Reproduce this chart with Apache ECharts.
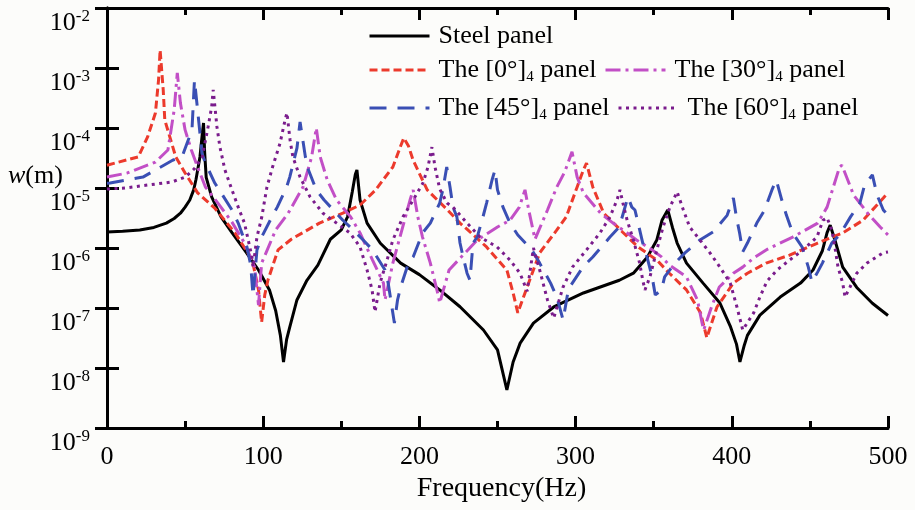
<!DOCTYPE html>
<html>
<head>
<meta charset="utf-8">
<title>w(m) - Frequency(Hz)</title>
<script src="https://cdn.jsdelivr.net/npm/echarts@6/dist/echarts.min.js"></script>
<style>
    html, body { margin: 0; padding: 0; background: #fcfcfa; }
    #main { width: 915px; height: 510px; }
</style>
</head>
<body>
<div id="main"></div>
<script>
    // [frequency Hz, w m]
    var steel = [[0,1.85e-6],[10,1.9e-6],[21,2.0e-6],[30,2.2e-6],[38,2.6e-6],[43,3.1e-6],[47,3.8e-6],[50,4.8e-6],[53,6.3e-6],[55.5,9.3e-6],[57,1.4e-5],[59.5,3.3e-5],[61,8e-5],[61.8,1.21e-4],[62.5,4e-5],[63.5,1.5e-5],[67,7.1e-6],[73,3.3e-6],[80,1.8e-6],[88,9.3e-7],[97,4.3e-7],[104,2.0e-7],[108,9e-8],[111,3.5e-8],[113,1.26e-8],[115,3e-8],[117,4.8e-8],[121.6,1.36e-7],[128,2.9e-7],[135,5.2e-7],[143,1.4e-6],[150,2.0e-6],[154,3.3e-6],[157,8.6e-6],[159,1.7e-5],[160,2.0e-5],[162,6.3e-6],[166.5,2.6e-6],[175,1.2e-6],[188,5.6e-7],[200,3.6e-7],[213,2.0e-7],[226,1.05e-7],[241,4.3e-8],[250,2.0e-8],[253,9.3e-9],[256,4.3e-9],[260,1.26e-8],[264.5,2.6e-8],[273,5.6e-8],[286,1.04e-7],[305,1.78e-7],[328,2.9e-7],[337,3.8e-7],[346,7.1e-7],[352,1.36e-6],[355.3,2.9e-6],[359,4.3e-6],[362,2.2e-6],[365,1.21e-6],[371,5.6e-7],[381.6,2.6e-7],[392.4,1.21e-7],[399,5e-8],[403,2.5e-8],[405.2,1.26e-8],[408,2.4e-8],[410,3.5e-8],[418,7.6e-8],[431,1.52e-7],[444,2.6e-7],[452,4.3e-7],[458,9e-7],[461,1.8e-6],[463,2.4e-6],[466,1.36e-6],[471,4.8e-7],[480,2.2e-7],[490,1.2e-7],[500,7.5e-8]];

    var ply0 = [[0,2.4e-5],[20,3.3e-5],[26,7.1e-5],[31,1.78e-4],[33,6.3e-4],[34,2.0e-3],[36,4.3e-4],[37,1.36e-4],[44,3.3e-5],[50,1.78e-5],[58,8.3e-6],[69,4.6e-6],[82,1.78e-6],[93,6.3e-7],[97,2.0e-7],[99,5.8e-8],[101,1.65e-7],[103,2.9e-7],[109.5,9.3e-7],[118,1.4e-6],[136,2.6e-6],[151,3.8e-6],[162,5.2e-6],[172,9.3e-6],[183,2.24e-5],[188,5e-5],[190,6.8e-5],[193,5e-5],[196,2.9e-5],[205,9.3e-6],[218,4.3e-6],[226,2.6e-6],[231,2.0e-6],[243,1.04e-6],[256,4.3e-7],[260,1.78e-7],[263,8.3e-8],[269,2.24e-7],[277,8.3e-7],[288,2.0e-6],[294,3.3e-6],[301,1.04e-5],[305,2.0e-5],[307,2.6e-5],[311,1.04e-5],[318,3.8e-6],[330,1.85e-6],[340,1.04e-6],[352,6.3e-7],[360,3.8e-7],[371,2.0e-7],[380,8.3e-8],[384,3.2e-8],[390.5,1.04e-7],[401,2.6e-7],[410,3.8e-7],[422,5.6e-7],[437,7.6e-7],[455,1.21e-6],[471,1.78e-6],[484,2.9e-6],[497,6.8e-6],[500,8.3e-6]];

    var ply30 = [[0,1.52e-5],[13,1.78e-5],[31,2.7e-5],[39,4.3e-5],[43,2e-4],[45,8.3e-4],[47,2.6e-4],[50,9.3e-5],[54,4.3e-5],[58,2.24e-5],[63,1.04e-5],[71,5.6e-6],[80,2.7e-6],[88,1.21e-6],[94.5,4.8e-7],[97,1.12e-7],[99,5.6e-7],[108,2.0e-6],[116,3.8e-6],[125.5,1.04e-5],[131,3.3e-5],[134,1.0e-4],[136.5,3.3e-5],[141,1.36e-5],[147,6.3e-6],[156,3.3e-6],[162,1.78e-6],[170,6.3e-7],[177,2.6e-7],[178,1.36e-7],[183,5.6e-7],[190,2.6e-6],[194,6.3e-6],[196,9.3e-6],[199,3.3e-6],[202,1.52e-6],[207,5.6e-7],[212,1.65e-7],[213,1.21e-7],[219,4.3e-7],[237,1.36e-6],[250,2.24e-6],[258,2.9e-6],[264,4.8e-6],[267.6,9.3e-6],[270,4.3e-6],[274,1.4e-6],[282,4.3e-6],[288,1.04e-5],[293,1.85e-5],[297.7,4.0e-5],[301,1.52e-5],[305,8.3e-6],[316,3.8e-6],[324,2.6e-6],[333,1.78e-6],[339,1.36e-6],[349,9.3e-7],[355,7.1e-7],[360,5.2e-7],[371,3.3e-7],[378,1.36e-7],[381,5.6e-8],[382,4.3e-8],[387,1.04e-7],[392,2.24e-7],[401,3.8e-7],[407,4.8e-7],[414,6.8e-7],[423,9.6e-7],[439,1.52e-6],[455,2.6e-6],[461,4.8e-6],[465,1.04e-5],[469,2.24e-5],[470.5,2.4e-5],[476,1.04e-5],[478,7.6e-6],[487,3.8e-6],[495,2.24e-6],[500,1.65e-6]];

    var ply45 = [[0,1.2e-5],[2,1.21e-5],[23,1.52e-5],[42,2.9e-5],[48,3.3e-5],[54.4,9.3e-5],[56,6.3e-4],[58,2e-4],[60.8,3.8e-5],[63,2.6e-5],[69,1.21e-5],[74,7.6e-6],[80,4.3e-6],[84,2.6e-6],[89.6,1.04e-6],[92,5.2e-7],[93.5,1.6e-7],[96,9.3e-7],[99,1.52e-6],[105.6,3.3e-6],[109,4.8e-6],[115,1.04e-5],[117,1.52e-5],[121.6,4.6e-5],[123.6,1.26e-4],[127,3.3e-5],[129,2.0e-5],[134,9.3e-6],[139,6.3e-6],[151,2.9e-6],[155.6,2.24e-6],[164,1.36e-6],[170,9.3e-7],[178,4.3e-7],[180,2.6e-7],[184,5.6e-8],[186,1.36e-7],[188,2.24e-7],[193,5.6e-7],[196,7.1e-7],[202,1.78e-6],[207,2.6e-6],[213,5.6e-6],[215,9.3e-6],[217.5,2.24e-5],[219.6,1.04e-5],[221.5,4.8e-6],[224,3.3e-6],[226,1.21e-6],[228,7.1e-7],[230.5,3.8e-7],[232.4,2.9e-7],[234.3,1.21e-6],[237,1.52e-6],[240.7,3.3e-6],[243,5.6e-6],[246.5,1.36e-5],[248.4,2.0e-5],[250,9.3e-6],[253.5,4.8e-6],[258,2.6e-6],[263,1.65e-6],[272,9.3e-7],[277,5.6e-7],[284,2.6e-7],[288,1.52e-7],[292,6.3e-8],[295,1.78e-7],[297,2.4e-7],[304.7,4.8e-7],[311,7.1e-7],[322,1.52e-6],[328,2.24e-6],[333.5,7.1e-6],[336,4.8e-6],[338,4.3e-6],[340,2.6e-6],[343,1.21e-6],[345.7,7.1e-7],[349,3.3e-7],[351,1.65e-7],[355,2.0e-7],[357,3.3e-7],[363.6,5.6e-7],[370,8.3e-7],[379.6,1.36e-6],[388,1.85e-6],[397,3.5e-6],[401,6.8e-6],[403,3.2e-6],[405,1.78e-6],[407,8.6e-7],[410,1.21e-6],[416,2.6e-6],[421,4.3e-6],[425.7,9.3e-6],[428.5,1.36e-5],[432,6.3e-6],[435,3.5e-6],[439,1.78e-6],[445,1.04e-6],[449,4.8e-7],[451.3,2.7e-7],[455,4.0e-7],[458,5.6e-7],[464,1.21e-6],[469,1.65e-6],[476,3.3e-6],[482,5.6e-6],[485,1.12e-5],[490,1.65e-5],[493,7.6e-6],[497,4.3e-6],[500,3.5e-6]];

    var ply60 = [[0,9.6e-6],[11.5,1.0e-5],[26,1.12e-5],[41.6,1.26e-5],[50,1.52e-5],[56,2.1e-5],[61,3.3e-5],[62.7,5.6e-5],[64.7,1.04e-4],[67,2.24e-4],[68,4.3e-4],[70.4,1.04e-4],[72.3,4.8e-5],[75.5,2.0e-5],[80,9.3e-6],[84,4.8e-6],[88,2.6e-6],[90,1.52e-6],[92.8,7.1e-7],[93.5,4.8e-7],[96,1.52e-6],[99,3.2e-6],[102.4,1.04e-5],[106,2.24e-5],[110.8,5.6e-5],[114,1.36e-4],[115.2,1.78e-4],[117.2,6.3e-5],[119,3.3e-5],[123.6,1.52e-5],[130,7.1e-6],[138.3,3.8e-6],[147,2.6e-6],[155.6,1.78e-6],[162,1.04e-6],[166.5,4.3e-7],[169.7,2.0e-7],[171.6,8.6e-8],[174.8,2.6e-7],[179.3,6.3e-7],[183,1.36e-6],[189.5,3.3e-6],[196,6.3e-6],[202.3,1.21e-5],[205.5,2.24e-5],[208,4.8e-5],[210,2.24e-5],[213,9.6e-6],[217.7,5.6e-6],[221.5,4.8e-6],[230.5,2.6e-6],[238.8,1.52e-6],[249.7,1.04e-6],[258,6.3e-7],[264.4,3.8e-7],[269,1.9e-7],[273,1.0e-6],[277,4.3e-7],[282,1.36e-7],[286,6.8e-8],[292,2.24e-7],[298,4.8e-7],[307,9.3e-7],[315.6,1.78e-6],[322,3.3e-6],[326.5,6.3e-6],[328.4,9.3e-6],[330.3,5.6e-6],[333,2.9e-6],[337,1.36e-6],[341,5.6e-7],[343,2.9e-7],[344.4,2.0e-7],[347.6,3.3e-7],[352,9.3e-7],[356,2.24e-6],[360.4,4.8e-6],[365,8.6e-6],[369,4.3e-6],[373,2.24e-6],[379.6,1.36e-6],[386,8.3e-7],[392.4,4.8e-7],[399,2.6e-7],[403.3,1.04e-7],[407,4.3e-8],[414,8.3e-8],[418,1.52e-7],[422.5,2.8e-7],[429,4.3e-7],[437,6.3e-7],[445.6,9.3e-7],[454.5,1.52e-6],[458.4,2.9e-6],[461,3.2e-6],[464,2.0e-6],[466,1.04e-6],[468,4.8e-7],[471,2.6e-7],[472.5,1.52e-7],[475.7,2.24e-7],[480,3.8e-7],[486.6,5.6e-7],[496.8,8.3e-7],[500,8.6e-7]];

    var seriesNames = ['Steel panel', 'The [0°]4 panel', 'The [30°]4 panel', 'The [45°]4 panel', 'The [60°]4 panel'];
    var seriesData = [steel, ply0, ply30, ply45, ply60];
    var xTicks = [0, 100, 200, 300, 400, 500];

    var FONT = 'Liberation Serif';
    var colors = ['#000000', '#ec3a2c', '#c24fc6', '#3a4fb4', '#7a1c8c'];
    var dashes = ['solid', [8, 4], [15, 5, 3, 5], [17, 11], [3, 4.5]];
    // legend slots: left x of the sample line, top
    var legendPos = [[368, 23], [368, 57], [604, 57], [368, 95], [617, 95]];

    var myChart = echarts.init(document.getElementById('main'));

    function legendText(name) {
        var m = name.match(/^(.*\])(\d)(.*)$/);
        if (!m) return '{a|' + name + '}';
        return '{a|' + m[1] + '}{s|' + m[2] + '}{a|' + m[3] + '}';
    }

    var legends = [];
    for (var i = 0; i < seriesNames.length; i++) {
        legends.push({
            left: legendPos[i][0],
            top: legendPos[i][1],
            padding: 0,
            itemWidth: 60,
            itemHeight: 14,
            selectedMode: false,
            data: [seriesNames[i]],
            formatter: legendText,
            // hide the marker circle, keep only the line sample
            itemStyle: { color: 'rgba(0,0,0,0)', borderWidth: 0, opacity: 0 },
            lineStyle: { width: 3 },
            textStyle: {
                color: '#000',
                fontFamily: FONT,
                fontSize: 26,
                padding: [0, 0, 0, 4],
                rich: {
                    a: { fontFamily: FONT, fontSize: 26, lineHeight: 30, color: '#000', verticalAlign: 'middle' },
                    s: { fontFamily: FONT, fontSize: 15, lineHeight: 15, color: '#000', verticalAlign: 'bottom' }
                }
            }
        });
    }

    var series = [];
    for (var j = 0; j < seriesData.length; j++) {
        series.push({
            name: seriesNames[j],
            type: 'line',
            data: seriesData[j],
            symbol: 'none',
            showSymbol: false,
            xAxisIndex: 0,
            yAxisIndex: 0,
            itemStyle: { color: colors[j] },
            lineStyle: { color: colors[j], width: 3, type: dashes[j] }
        });
    }

    var tickStyle = { show: true, inside: true, length: 12, lineStyle: { color: '#000', width: 3 } };
    var minorStyle = { show: true, splitNumber: 2, length: 7, lineStyle: { color: '#000', width: 3 } };

    var option = {
        backgroundColor: '#fcfcfa',
        animation: false,
        title: {
            text: '{i|w}(m)',
            left: 8,
            top: 163,
            padding: 0,
            textStyle: {
                fontFamily: FONT,
                fontSize: 26,
                fontWeight: 'normal',
                color: '#000',
                rich: {
                    i: { fontFamily: FONT, fontSize: 26, fontStyle: 'italic', color: '#000' }
                }
            }
        },
        legend: legends,
        grid: { left: 107, right: 27, top: 8, bottom: 82, containLabel: false, outerBoundsMode: 'none' },
        xAxis: [{
            type: 'value',
            position: 'bottom',
            min: xTicks[0],
            max: xTicks[xTicks.length - 1],
            interval: 100,
            name: 'Frequency(Hz)',
            nameLocation: 'middle',
            nameGap: 47,
            nameTextStyle: { fontFamily: FONT, fontSize: 28, color: '#000', padding: [0, 0, 0, 8] },
            axisLine: { show: true, lineStyle: { color: '#000', width: 3 } },
            axisTick: tickStyle,
            minorTick: minorStyle,
            splitLine: { show: false },
            axisLabel: { margin: 16, fontFamily: FONT, fontSize: 26, color: '#000' }
        }, {
            type: 'value',
            position: 'top',
            min: 0,
            max: 500,
            interval: 100,
            axisLine: { show: true, lineStyle: { color: '#000', width: 3 } },
            axisTick: tickStyle,
            minorTick: minorStyle,
            splitLine: { show: false },
            axisLabel: { show: false }
        }],
        yAxis: [{
            type: 'log',
            logBase: 10,
            min: 1e-9,
            max: 1e-2,
            splitNumber: 7,
            axisLine: { show: true, lineStyle: { color: '#000', width: 3 } },
            axisTick: tickStyle,
            splitLine: { show: false },
            axisLabel: {
                margin: 17,
                verticalAlign: 'top',
                formatter: function (v) {
                    var e = Math.round(Math.log(v) / Math.LN10);
                    return '{b|10}{s|' + e + '}';
                },
                rich: {
                    b: { fontFamily: FONT, fontSize: 26, lineHeight: 30, color: '#000', verticalAlign: 'middle' },
                    s: { fontFamily: FONT, fontSize: 17, lineHeight: 17, color: '#000', verticalAlign: 'top' }
                }
            }
        }, {
            type: 'log',
            logBase: 10,
            min: 1e-9,
            max: 1e-2,
            splitNumber: 7,
            position: 'right',
            axisLine: { show: true, lineStyle: { color: '#000', width: 3 } },
            axisTick: tickStyle,
            splitLine: { show: false },
            axisLabel: { show: false }
        }],
        series: series
    };

    myChart.setOption(option);
</script>
</body>
</html>
